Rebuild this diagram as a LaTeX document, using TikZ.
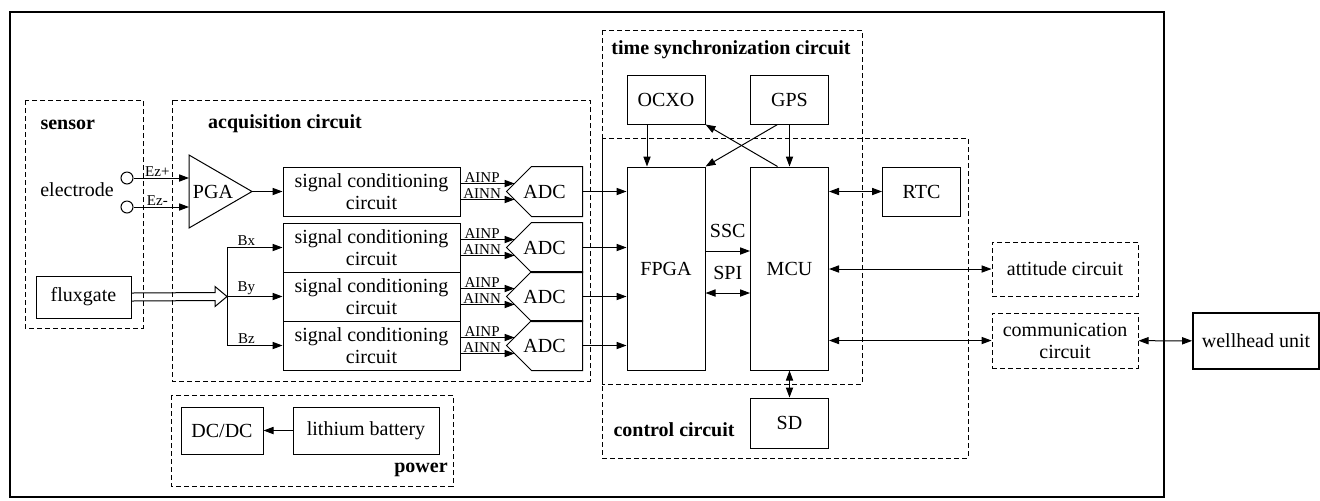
\documentclass[tikz,border=0pt]{standalone}
\usepackage{fontspec}
\setmainfont{Liberation Serif}
\usetikzlibrary{arrows.meta}

\begin{document}
\begin{tikzpicture}[x=0.5pt, y=-0.5pt, line width=0.5pt,
		>={Triangle[length=5pt,width=3.6pt]},
		font=\fontsize{10}{11}\selectfont,
		blk/.style={rectangle, draw, inner sep=0pt, align=center},
		dblk/.style={blk, dash pattern=on 2.5pt off 1.5pt},
		grp/.style={draw, dash pattern=on 2.5pt off 1.5pt},
		unit/.style={blk, minimum width=39pt, minimum height=24.5pt},
		scbox/.style={blk, minimum width=88.5pt, minimum height=24.5pt},
		adcbox/.style={rectangle, inner sep=0pt, minimum width=37.5pt, minimum height=24.5pt},
		sig/.style={font=\fontsize{7.5}{8}\selectfont, inner sep=0.5pt},
		ttl/.style={font=\fontsize{10}{11}\selectfont\bfseries, inner sep=0pt}]
		\useasboundingbox (0,0) rectangle (1320,500);
		\draw[line width=1pt] (10,12) rectangle (1164,497);

		\draw[grp] (25,100) rectangle (143,328);
		\node[ttl, anchor=west] (sensortxt) at (40,125) {sensor};
		\node (electrode) at (77,190) {electrode};
		\node[circle, draw, minimum size=6pt, inner sep=0pt] (ezplus) at (127,178) {};
		\node[circle, draw, minimum size=6pt, inner sep=0pt] (ezminus) at (127,207) {};
		\node[blk, minimum width=47.5pt, minimum height=21pt] (fluxgate) at (83.5,297) {fluxgate};

		\draw[grp] (172,100) rectangle (590,381);
		\node[ttl] (acqtxt) at (285,124) {acquisition circuit};
		\node (pga) at (213,191.5) {PGA};
		\draw (189,155) -- (252,191.5) -- (189,228) -- cycle;
		\coordinate (pgaplus) at (189,178);
		\coordinate (pgaminus) at (189,207);
		\coordinate (pgaout) at (252,191.5);
		\node[scbox] (cond1) at (371.5,191.5) {signal conditioning\\circuit};
		\node[scbox] (cond2) at (371.5,247.5) {signal conditioning\\circuit};
		\node[scbox] (cond3) at (371.5,296.5) {signal conditioning\\circuit};
		\node[scbox] (cond4) at (371.5,345.5) {signal conditioning\\circuit};
		\node[adcbox] (adc1) at (544.5,191.5) {ADC};
		\node[adcbox] (adc2) at (544.5,247.5) {ADC};
		\node[adcbox] (adc3) at (544.5,296.5) {ADC};
		\node[adcbox] (adc4) at (544.5,345.5) {ADC};
		\draw ([xshift=12.5pt]adc1.north west) -- (adc1.north east) -- (adc1.south east) -- ([xshift=12.5pt]adc1.south west) -- (adc1.west) -- cycle;
		\draw ([xshift=12.5pt]adc2.north west) -- (adc2.north east) -- (adc2.south east) -- ([xshift=12.5pt]adc2.south west) -- (adc2.west) -- cycle;
		\draw ([xshift=12.5pt]adc3.north west) -- (adc3.north east) -- (adc3.south east) -- ([xshift=12.5pt]adc3.south west) -- (adc3.west) -- cycle;
		\draw ([xshift=12.5pt]adc4.north west) -- (adc4.north east) -- (adc4.south east) -- ([xshift=12.5pt]adc4.south west) -- (adc4.west) -- cycle;

		\draw[->] (ezplus) -- (pgaplus) node[sig, pos=0.43, above] {Ez+};
		\draw[->] (ezminus) -- (pgaminus) node[sig, pos=0.43, above] {Ez-};
		\draw[->] (pgaout) -- (cond1);

		\coordinate (split) at (227,296.5);
		\coordinate (splitx) at (227,247.5);
		\coordinate (splitz) at (227,345.5);
		\draw ([yshift=2pt]fluxgate.east) -- ([xshift=-6pt,yshift=2pt]split) -- ([xshift=-6pt,yshift=5pt]split) -- (split) -- ([xshift=-6pt,yshift=-5pt]split) -- ([xshift=-6pt,yshift=-2pt]split) -- ([yshift=-2pt]fluxgate.east);
		\draw (splitx) -- (splitz);
		\draw[->] (splitx) -- (cond2) node[sig, pos=0.35, above] {Bx};
		\draw[->] (split) -- (cond3) node[sig, pos=0.35, above] {By};
		\draw[->] (splitz) -- (cond4) node[sig, pos=0.35, above] {Bz};

		\draw[->] ([yshift=4pt]cond1.east) -- ([shift={(4pt,4pt)}]adc1.west) node[sig, pos=0.4, above] {AINP};
		\draw[->] ([yshift=-4pt]cond1.east) -- ([shift={(4pt,-4pt)}]adc1.west) node[sig, pos=0.4, above] {AINN};
		\draw[->] ([yshift=4pt]cond2.east) -- ([shift={(4pt,4pt)}]adc2.west) node[sig, pos=0.4, above] {AINP};
		\draw[->] ([yshift=-4pt]cond2.east) -- ([shift={(4pt,-4pt)}]adc2.west) node[sig, pos=0.4, above] {AINN};
		\draw[->] ([yshift=4pt]cond3.east) -- ([shift={(4pt,4pt)}]adc3.west) node[sig, pos=0.4, above] {AINP};
		\draw[->] ([yshift=-4pt]cond3.east) -- ([shift={(4pt,-4pt)}]adc3.west) node[sig, pos=0.4, above] {AINN};
		\draw[->] ([yshift=4pt]cond4.east) -- ([shift={(4pt,4pt)}]adc4.west) node[sig, pos=0.4, above] {AINP};
		\draw[->] ([yshift=-4pt]cond4.east) -- ([shift={(4pt,-4pt)}]adc4.west) node[sig, pos=0.4, above] {AINN};

		\draw[grp] (602,30) rectangle (862,384);
		\node[ttl] (synctxt) at (731,50) {time synchronization circuit};
		\node[unit] (ocxo) at (666,99.5) {OCXO};
		\node[unit] (gps) at (789.5,99.5) {GPS};

		\draw[grp] (602,138) rectangle (968,458);
		\node[ttl] (ctrltxt) at (674,430) {control circuit};
		\node[unit, minimum height=101.5pt] (fpga) at (666,268.5) {FPGA};
		\node[unit, minimum height=101.5pt] (mcu) at (789.5,268.5) {MCU};
		\node[unit] (rtc) at (921.5,191.5) {RTC};
		\node[unit, minimum height=25pt] (sd) at (789.5,423) {SD};

		\draw[->] (adc1) -- (adc1 -| fpga.west);
		\draw[->] (adc2) -- (adc2 -| fpga.west);
		\draw[->] (adc3) -- (adc3 -| fpga.west);
		\draw[->] (adc4) -- (adc4 -| fpga.west);

		\draw[->] ([xshift=-9.5pt]ocxo.south) -- ([xshift=-9.5pt]fpga.north);
		\draw[->] (gps) -- (mcu);
		\draw[->] ([xshift=-6pt]gps.south) -- (fpga.north east);
		\draw[->] ([xshift=-6pt]mcu.north) -- (ocxo.south east);
		\draw[->] ([yshift=8.75pt]fpga.east) -- ([yshift=8.75pt]mcu.west) node[midway, above=3pt] {SSC};
		\draw[<->] ([yshift=-12.25pt]fpga.east) -- ([yshift=-12.25pt]mcu.west) node[midway, above=3pt] {SPI};
		\draw[<->] (mcu.east |- rtc) -- (rtc);
		\draw[<->] (mcu) -- (sd);

		\node[dblk, minimum width=73pt, minimum height=27pt] (attitude) at (1065,269) {attitude circuit};
		\node[dblk, minimum width=73pt, minimum height=27.5pt] (comm) at (1065,340.5) {communication\\circuit};
		\node[blk, line width=0.9pt, minimum width=63pt, minimum height=28pt] (wellhead) at (1256,341) {wellhead unit};
		\draw[<->] (mcu.east |- attitude) -- (attitude);
		\draw[<->] (mcu.east |- comm) -- (comm);
		\draw[<->] (comm) -- (wellhead);

		\draw[grp] (171,395) rectangle (453,486);
		\node[ttl] (powertxt) at (421,470) {power};
		\node[blk, minimum width=41pt, minimum height=23.5pt] (dcdc) at (222,430.5) {DC/DC};
		\node[blk, minimum width=73pt, minimum height=23.5pt] (battery) at (366,430.5) {lithium battery};
		\draw[->] (battery) -- (dcdc);
	\end{tikzpicture}
\end{document}
